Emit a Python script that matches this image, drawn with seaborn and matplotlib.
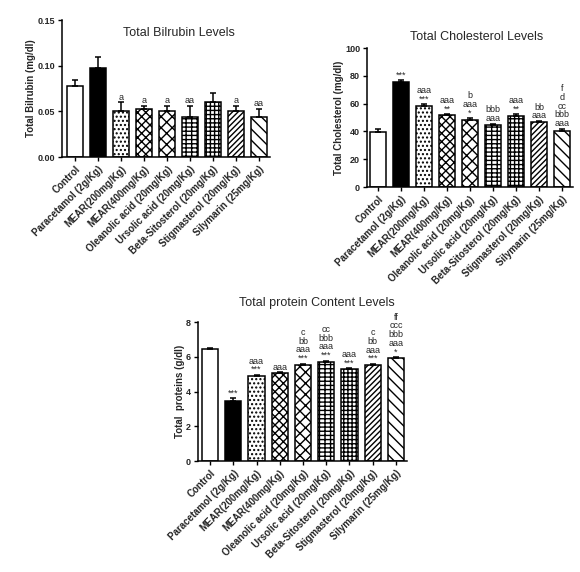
import matplotlib
matplotlib.use("Agg")
import matplotlib.pyplot as plt
import numpy as np
import seaborn as sns

# Treatment groups (x-axis categories), shared by all three panels
groups = [
    "Control",
    "Paracetamol (2g/Kg)",
    "MEAR(200mg/Kg)",
    "MEAR(400mg/Kg)",
    "Oleanolic acid (20mg/Kg)",
    "Ursolic acid (20mg/Kg)",
    "Beta-Sitosterol (20mg/Kg)",
    "Stigmasterol (20mg/Kg)",
    "Silymarin (25mg/Kg)",
]

# Total bilirubin (mg/dl), mean and SEM
bili_mean = [0.078, 0.097, 0.050, 0.053, 0.050, 0.044, 0.060, 0.050, 0.044]
bili_err = [0.006, 0.012, 0.010, 0.003, 0.006, 0.012, 0.010, 0.006, 0.009]
bili_marks = ["", "", "a", "a", "a", "aa", "", "a", "aa"]

# Total cholesterol (mg/dl)
chol_mean = [39.5, 75.5, 58.5, 51.5, 48.5, 44.5, 51.0, 46.5, 40.5]
chol_err = [2.5, 1.5, 1.2, 1.0, 1.0, 1.0, 1.5, 1.0, 1.5]
chol_marks = ["", "***", "aaa\n***", "aaa\n**", "b\naaa\n*", "bbb\naaa",
              "aaa\n**", "bb\naaa", "f\nd\ncc\nbbb\naaa"]

# Total proteins (g/dl)
prot_mean = [6.45, 3.48, 4.88, 5.05, 5.52, 5.68, 5.28, 5.52, 5.93]
prot_err = [0.06, 0.14, 0.08, 0.06, 0.08, 0.09, 0.05, 0.07, 0.06]
prot_marks = ["", "***", "aaa\n***", "aaa", "c\nbb\naaa\n***", "cc\nbbb\naaa\n***",
              "aaa\n***", "c\nbb\naaa\n***", "ff\nccc\nbbb\naaa\n*"]

# Bar fills and hatch patterns per group
fills = ["white", "black", "white", "white", "white", "white", "white", "white", "white"]
hatches = ["", "", "....", "xxxx", "xxx", "+++-", "++++", "//////", "\\\\\\"]

sns.set_style("ticks")
plt.rcParams["font.family"] = ["Liberation Sans", "DejaVu Sans"]
plt.rcParams["hatch.linewidth"] = 1.0


def draw_panel(ax, means, errs, marks, ylim, yticks, fmt, ylabel, title, title_xy, xlim):
    sns.barplot(x=groups, y=means, hue=groups, palette=fills, saturation=1,
                edgecolor="black", linewidth=1.1, width=0.7, legend=False,
                errorbar=None, ax=ax)
    for patch, h in zip(ax.patches, hatches):
        patch.set_hatch(h)
    xs = np.arange(len(groups))
    ax.errorbar(xs, means, yerr=[np.zeros(len(groups)), errs], fmt="none",
                ecolor="black", elinewidth=1.1, capsize=2.5, capthick=1.1, zorder=5)

    # significance letters, one stacked block per bar
    for x, m, e, mk in zip(xs, means, errs, marks):
        if not mk:
            continue
        ax.annotate(mk, (x, m + e), xytext=(0, 0.5),
                    textcoords="offset points", ha="center", va="bottom",
                    fontsize=6.5, linespacing=0.95, multialignment="center",
                    annotation_clip=False)

    ax.set_xlim(*xlim)
    ax.set_ylim(*ylim)
    ax.set_yticks(yticks)
    ax.set_yticklabels([fmt.format(t) for t in yticks], fontweight="bold", fontsize=6.5)
    ax.set_xticks(xs)
    ax.set_xticklabels(groups, rotation=45, ha="right", rotation_mode="anchor",
                       fontweight="bold", fontsize=7)
    ax.set_ylabel(ylabel, fontweight="bold", fontsize=7, labelpad=1)
    ax.set_xlabel("")
    ax.tick_params(axis="both", direction="out", length=3, width=1.0, color="black", pad=2)
    for side in ["left", "bottom"]:
        ax.spines[side].set_linewidth(1.1)
        ax.spines[side].set_color("black")
    sns.despine(ax=ax)
    ax.text(title_xy[0], title_xy[1], title, transform=ax.transAxes,
            ha="center", va="center", fontsize=9)


fig = plt.figure(figsize=(5.8, 5.72), dpi=100)

ax1 = fig.add_axes([0.107, 0.7255, 0.3586, 0.2395])
draw_panel(ax1, bili_mean, bili_err, bili_marks, (0, 0.15), [0, 0.05, 0.10, 0.15],
           "{:.2f}", "Total Bilrubin (mg/dl)", "Total Bilrubin Levels", (0.56, 0.905),
           (-0.565, 8.48))

ax2 = fig.add_axes([0.6328, 0.673, 0.355, 0.243])
draw_panel(ax2, chol_mean, chol_err, chol_marks, (0, 100), [0, 20, 40, 60, 80, 100],
           "{:.0f}", "Total Cholesterol (mg/dl)", "Total Cholesterol Levels", (0.534, 1.08),
           (-0.48, 8.48))

ax3 = fig.add_axes([0.3414, 0.194, 0.360, 0.243])
draw_panel(ax3, prot_mean, prot_err, prot_marks, (0, 8), [0, 2, 4, 6, 8],
           "{:.0f}", "Total  proteins (g/dl)", "Total protein Content Levels", (0.569, 1.137),
           (-0.52, 8.47))

fig.savefig("out.png", dpi=100, facecolor="white")
